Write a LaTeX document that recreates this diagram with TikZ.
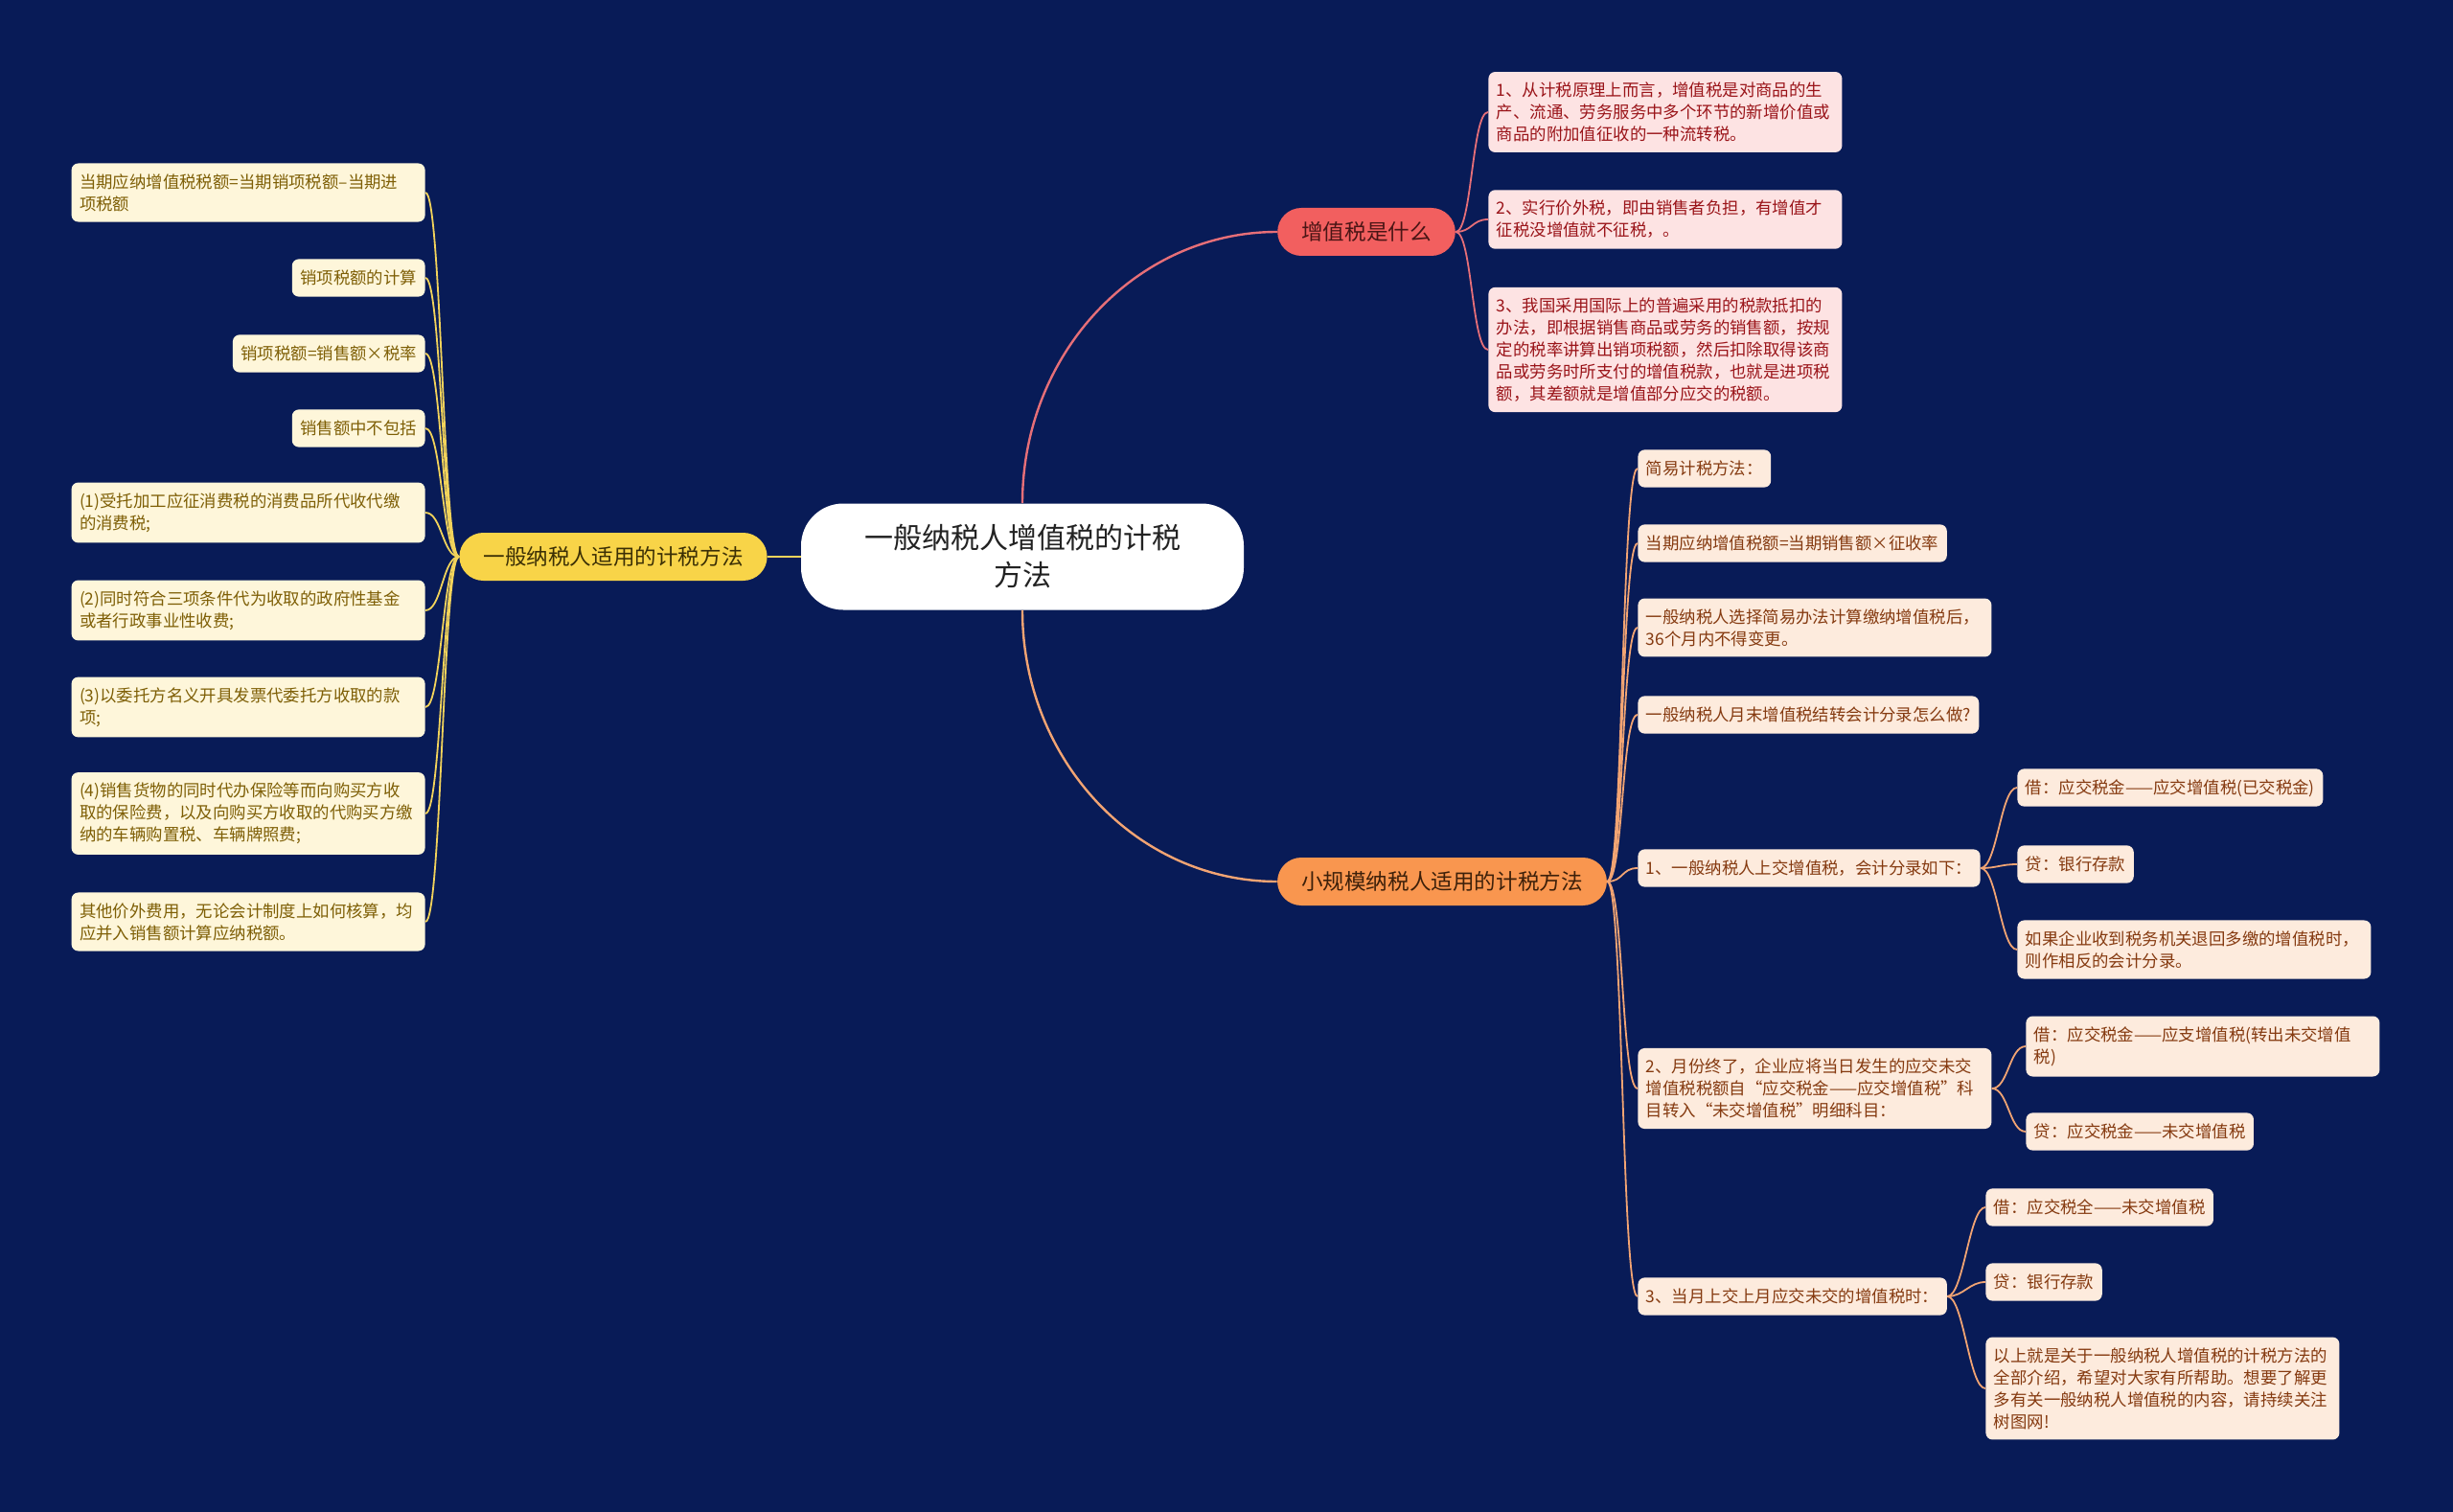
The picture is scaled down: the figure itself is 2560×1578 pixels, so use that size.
\documentclass[tikz,border=0pt]{standalone}
\usepackage{fontspec}
\setmainfont{Noto Sans CJK SC}
\usepackage{tikz}
\usetikzlibrary{
  positioning,
  calc
}
\definecolor{mapnavy}{HTML}{081B57}
\definecolor{rootink}{HTML}{222222}
\definecolor{yellowfill}{HTML}{F8D448}
\definecolor{yellowline}{HTML}{F2D35B}
\definecolor{yellowleaf}{HTML}{FEF6DA}
\definecolor{yellowink}{HTML}{7E5F06}
\definecolor{yellowhead}{HTML}{3B2F05}
\definecolor{redfill}{HTML}{F25F5F}
\definecolor{redline}{HTML}{E66F78}
\definecolor{redleaf}{HTML}{FDE3E3}
\definecolor{redink}{HTML}{9A1419}
\definecolor{redhead}{HTML}{4A1515}
\definecolor{orangefill}{HTML}{F9964F}
\definecolor{orangeline}{HTML}{F2A473}
\definecolor{orangeleaf}{HTML}{FDEBDD}
\definecolor{orangeink}{HTML}{853A10}
\definecolor{orangehead}{HTML}{3D200A}
\tikzstyle{rootbox} = [
  rectangle, rounded corners=22pt, fill=white, text=rootink,
  minimum width=231pt, minimum height=55.5pt, inner sep=0pt,
  align=center, font=\fontsize{15}{19.5}\selectfont
]
\tikzstyle{branchbox} = [
  rectangle, rounded corners=12.5pt, inner xsep=12.5pt, inner ysep=0pt,
  minimum height=25pt, font=\fontsize{11.3}{14}\selectfont
]
\tikzstyle{leafbox} = [
  rectangle, rounded corners=3.5pt, inner xsep=4.25pt, inner ysep=5.45pt,
  align=left, font=\fontsize{8.7}{11.5}\selectfont
]
\tikzstyle{lineleaf} = [leafbox, text height=7.5pt, text depth=1.2pt]
\tikzstyle{wideleaf} = [leafbox, text width=176pt]
\tikzstyle{yleaf} = [fill=yellowleaf, text=yellowink]
\tikzstyle{rleaf} = [fill=redleaf, text=redink]
\tikzstyle{oleaf} = [fill=orangeleaf, text=orangeink]
\tikzstyle{ylink} = [draw=yellowline, line width=0.9pt]
\tikzstyle{rlink} = [draw=redline, line width=0.9pt]
\tikzstyle{olink} = [draw=orangeline, line width=0.9pt]
\tikzstyle{toright} = [out=0, in=180, distance=8.5pt]
\tikzstyle{toleft} = [out=180, in=0, distance=8.5pt]

\begin{document}
\begin{tikzpicture}[x=0.5pt, y=-0.5pt]

\fill[mapnavy] (0,0) rectangle (2560,1578);
\useasboundingbox (0,0) rectangle (2560,1578);

% --- Nodes ---
\node[rootbox] (root) at (1067,581) {一般纳税人增值税的计税\\方法};
\node[branchbox, fill=yellowfill, text=yellowhead] (general) at (640,581) {一般纳税人适用的计税方法};
\node[branchbox, fill=redfill, text=redhead] (vatwhat) at (1426,242) {增值税是什么};
\node[branchbox, fill=orangefill, text=orangehead] (small) at (1505,920) {小规模纳税人适用的计税方法};

% left: general taxpayer
\node[wideleaf, yleaf, anchor=east] (formula) at (444,201) {当期应纳增值税税额=当期销项税额–当期进\\项税额};
\node[lineleaf, yleaf, anchor=east] (outcalc) at (444,290) {销项税额的计算};
\node[lineleaf, yleaf, anchor=east] (outrate) at (444,369) {销项税额=销售额×税率};
\node[lineleaf, yleaf, anchor=east] (exclude) at (444,447) {销售额中不包括};
\node[wideleaf, yleaf, anchor=east] (consume) at (444,535) {(1)受托加工应征消费税的消费品所代收代缴\\的消费税;};
\node[wideleaf, yleaf, anchor=east] (govfund) at (444,637) {(2)同时符合三项条件代为收取的政府性基金\\或者行政事业性收费;};
\node[wideleaf, yleaf, anchor=east] (entrust) at (444,738) {(3)以委托方名义开具发票代委托方收取的款\\项;};
\node[wideleaf, yleaf, anchor=east] (insure) at (444,849) {(4)销售货物的同时代办保险等而向购买方收\\取的保险费，以及向购买方收取的代购买方缴\\纳的车辆购置税、车辆牌照费;};
\node[wideleaf, yleaf, anchor=east] (extra) at (444,962) {其他价外费用，无论会计制度上如何核算，均\\应并入销售额计算应纳税额。};

% right top: what is vat
\node[wideleaf, rleaf, anchor=west] (principle) at (1553,117) {1、从计税原理上而言，增值税是对商品的生\\产、流通、劳务服务中多个环节的新增价值或\\商品的附加值征收的一种流转税。};
\node[wideleaf, rleaf, anchor=west] (outside) at (1553,229) {2、实行价外税，即由销售者负担，有增值才\\征税没增值就不征税，。};
\node[wideleaf, rleaf, anchor=west] (deduct) at (1553,365) {3、我国采用国际上的普遍采用的税款抵扣的\\办法，即根据销售商品或劳务的销售额，按规\\定的税率讲算出销项税额，然后扣除取得该商\\品或劳务时所支付的增值税款，也就是进项税\\额，其差额就是增值部分应交的税额。};

% right bottom: small-scale taxpayer
\node[lineleaf, oleaf, anchor=west] (simple) at (1709,489) {简易计税方法：};
\node[lineleaf, oleaf, anchor=west] (levy) at (1709,567) {当期应纳增值税额=当期销售额×征收率};
\node[wideleaf, oleaf, anchor=west] (months) at (1709,655) {一般纳税人选择简易办法计算缴纳增值税后，\\36个月内不得变更。};
\node[lineleaf, oleaf, anchor=west] (monthend) at (1709,746) {一般纳税人月末增值税结转会计分录怎么做?};
\node[lineleaf, oleaf, anchor=west] (payin) at (1709,906) {1、一般纳税人上交增值税，会计分录如下：};
\node[wideleaf, oleaf, anchor=west] (closing) at (1709,1136) {2、月份终了，企业应将当日发生的应交未交\\增值税税额自“应交税金——应交增值税”科\\目转入“未交增值税”明细科目：};
\node[lineleaf, oleaf, anchor=west] (lastmonth) at (1709,1353) {3、当月上交上月应交未交的增值税时：};

\node[lineleaf, oleaf, anchor=west] (payindebit) at (2105,822) {借：应交税金——应交增值税(已交税金)};
\node[lineleaf, oleaf, anchor=west] (payincredit) at (2105,902) {贷：银行存款};
\node[wideleaf, oleaf, anchor=west] (refund) at (2105,991) {如果企业收到税务机关退回多缴的增值税时，\\则作相反的会计分录。};

\node[wideleaf, oleaf, anchor=west] (closingdebit) at (2114,1092) {借：应交税金——应支增值税(转出未交增值\\税)};
\node[lineleaf, oleaf, anchor=west] (closingcredit) at (2114,1181) {贷：应交税金——未交增值税};

\node[lineleaf, oleaf, anchor=west] (lastdebit) at (2072,1260) {借：应交税全——未交增值税};
\node[lineleaf, oleaf, anchor=west] (lastcredit) at (2072,1338) {贷：银行存款};
\node[wideleaf, oleaf, anchor=west] (closingnote) at (2072,1449) {以上就是关于一般纳税人增值税的计税方法的\\全部介绍，希望对大家有所帮助。想要了解更\\多有关一般纳税人增值税的内容，请持续关注\\树图网!};

% --- Connectors ---
\draw[ylink, line width=1.3pt] (root.west) -- (general.east);
\draw[rlink, line width=1.2pt] (root.north) .. controls ($(root.north)+(0,-156)$) and ($(vatwhat.west)+(-147,0)$) .. (vatwhat.west);
\draw[olink, line width=1.2pt] (root.south) .. controls ($(root.south)+(0,156)$) and ($(small.west)+(-147,0)$) .. (small.west);

\draw[ylink] (general.west) to[toleft] (formula.east);
\draw[ylink] (general.west) to[toleft] (outcalc.east);
\draw[ylink] (general.west) to[toleft] (outrate.east);
\draw[ylink] (general.west) to[toleft] (exclude.east);
\draw[ylink] (general.west) to[toleft] (consume.east);
\draw[ylink] (general.west) to[toleft] (govfund.east);
\draw[ylink] (general.west) to[toleft] (entrust.east);
\draw[ylink] (general.west) to[toleft] (insure.east);
\draw[ylink] (general.west) to[toleft] (extra.east);

\draw[rlink] (vatwhat.east) to[toright] (principle.west);
\draw[rlink] (vatwhat.east) to[toright] (outside.west);
\draw[rlink] (vatwhat.east) to[toright] (deduct.west);

\draw[olink] (small.east) to[toright] (simple.west);
\draw[olink] (small.east) to[toright] (levy.west);
\draw[olink] (small.east) to[toright] (months.west);
\draw[olink] (small.east) to[toright] (monthend.west);
\draw[olink] (small.east) to[toright] (payin.west);
\draw[olink] (small.east) to[toright] (closing.west);
\draw[olink] (small.east) to[toright] (lastmonth.west);

\draw[olink] (payin.east) to[toright] (payindebit.west);
\draw[olink] (payin.east) to[toright] (payincredit.west);
\draw[olink] (payin.east) to[toright] (refund.west);
\draw[olink] (closing.east) to[toright] (closingdebit.west);
\draw[olink] (closing.east) to[toright] (closingcredit.west);
\draw[olink] (lastmonth.east) to[toright] (lastdebit.west);
\draw[olink] (lastmonth.east) to[toright] (lastcredit.west);
\draw[olink] (lastmonth.east) to[toright] (closingnote.west);

\end{tikzpicture}
\end{document}
